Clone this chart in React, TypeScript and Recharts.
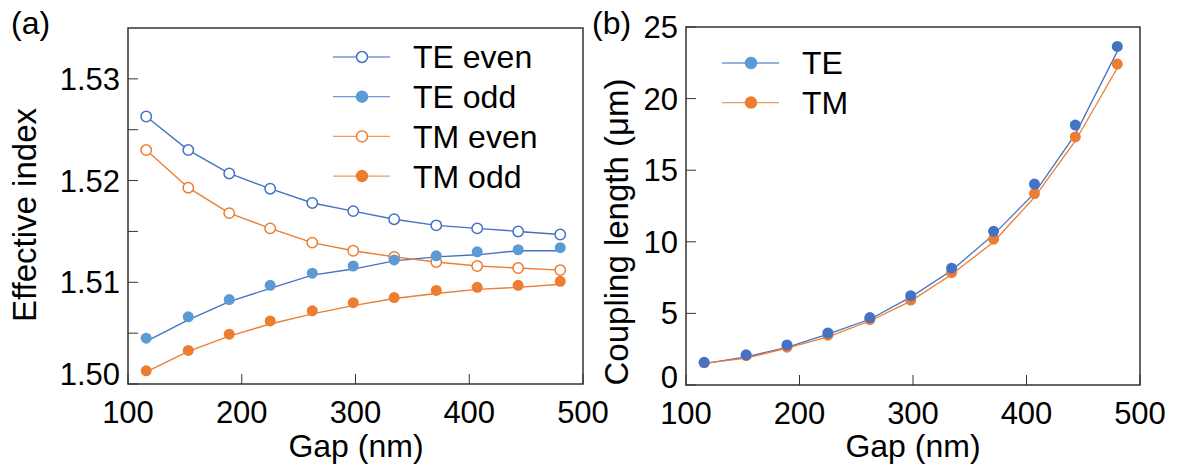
import { LineChart, Line, XAxis, YAxis, ReferenceArea, Legend } from "recharts";

// gap values (nm) shared by both panels
const gap = [116, 153, 189, 225, 262, 298, 334, 371, 407, 443, 480];

// (a) effective index
const teEven = [1.5263, 1.523, 1.5207, 1.5192, 1.5178, 1.517, 1.5162, 1.5156, 1.5153, 1.515, 1.5147];
const tmEven = [1.523, 1.5193, 1.5168, 1.5153, 1.5139, 1.5131, 1.5125, 1.512, 1.5116, 1.5114, 1.5112];
const teOdd = [1.5045, 1.5066, 1.5083, 1.5097, 1.5109, 1.5116, 1.5122, 1.5126, 1.513, 1.5132, 1.5134];
const teOddFit = [1.5042, 1.5063, 1.5081, 1.5094, 1.5107, 1.5113, 1.5121, 1.5125, 1.5127, 1.5131, 1.5131];
const tmOdd = [1.5013, 1.5033, 1.5049, 1.5062, 1.5072, 1.508, 1.5085, 1.5092, 1.5095, 1.5097, 1.5101];
const tmOddFit = [1.5012, 1.5032, 1.5047, 1.5059, 1.5069, 1.5077, 1.5084, 1.5089, 1.5093, 1.5095, 1.5098];

// (b) coupling length (um)
const teLc = [1.58, 2.11, 2.8, 3.64, 4.71, 6.24, 8.16, 10.73, 14.03, 18.15, 23.64];
const teLcFit = [1.5, 1.97, 2.62, 3.55, 4.59, 6.14, 8.0, 10.5, 13.4, 17.5, 23.3];
const tmLc = [1.55, 2.05, 2.64, 3.48, 4.57, 5.93, 7.84, 10.18, 13.37, 17.32, 22.41];
const tmLcFit = [1.51, 1.88, 2.57, 3.36, 4.47, 5.86, 7.72, 9.99, 13.1, 17.04, 22.14];

const gapTicks = [100, 200, 300, 400, 500];
const indexTicks = [1.5, 1.505, 1.51, 1.515, 1.52, 1.525, 1.53];
const lcTicks = [0, 5, 10, 15, 20, 25];

const BLUE = "#4472c4";
const LIGHT_BLUE = "#5b9bd5";
const ORANGE = "#ed7d31";
const AXIS = "#333";
const FONT = "'Liberation Sans', Arial, sans-serif";

const indexData = gap.map((g, i) => ({
    gap: g,
    teEven: teEven[i],
    tmEven: tmEven[i],
    teOdd: teOdd[i],
    teOddFit: teOddFit[i],
    tmOdd: tmOdd[i],
    tmOddFit: tmOddFit[i],
}));

const lcData = gap.map((g, i) => ({
    gap: g,
    te: teLc[i],
    teFit: teLcFit[i],
    tm: tmLc[i],
    tmFit: tmLcFit[i],
}));

// left y ticks: only every 0.01 gets a label, bottom one is nudged up
const IndexTick = ({ x, y, payload }: any) => {
    const v = payload.value;
    if (Math.round(v * 1000) % 10 !== 0) return <g />;
    const dy = v === 1.5 ? -10 : 0;
    return (
        <text x={x} y={y + dy} dy="0.355em" textAnchor="end" fontSize={31} fill="#000">
            {v.toFixed(2)}
        </text>
    );
};

// right y ticks, "0" lifted a bit so it clears the "100" below it
const LcTick = ({ x, y, payload }: any) => {
    const v = payload.value;
    const dy = v === 0 ? -8 : 0;
    return (
        <text x={x} y={y + dy} dy="0.355em" textAnchor="end" fontSize={31} fill="#000">
            {v}
        </text>
    );
};

const LegendRows = ({ rows, rowGap }: { rows: { label: string; color: string; line: string; hollow: boolean }[]; rowGap: number }) => (
    <svg width={240} height={rows.length * rowGap + 10} style={{ overflow: "visible" }}>
        {rows.map((r, i) => {
            const cy = 20 + i * rowGap;
            return (
                <g key={r.label}>
                    <line x1={0} x2={57} y1={cy} y2={cy} stroke={r.line} strokeWidth={1.3} />
                    <circle cx={29} cy={cy} r={5.5} fill={r.hollow ? "#fff" : r.color} stroke={r.color} strokeWidth={1.5} />
                    <text x={80} y={cy} dy="0.358em" fontSize={32} fill="#000">
                        {r.label}
                    </text>
                </g>
            );
        })}
    </svg>
);

export default function App() {
    const tickStyle = { fontSize: 31, fill: "#000" };
    return (
        <div style={{ position: "absolute", left: 0, top: 0, width: 1177, height: 468, background: "#fff", fontFamily: FONT }}>
            <div style={{ position: "absolute", left: 0, top: 0 }}>
                <LineChart width={620} height={468} data={indexData} margin={{ top: 28, right: 37, bottom: 44, left: 68 }}>
                    <XAxis
                        type="number"
                        dataKey="gap"
                        domain={[100, 500]}
                        ticks={gapTicks}
                        axisLine={false}
                        tickLine={{ stroke: AXIS }}
                        tickSize={-10}
                        tickMargin={27}
                        height={40}
                        tick={tickStyle}
                    />
                    <YAxis
                        type="number"
                        domain={[1.5, 1.535]}
                        ticks={indexTicks}
                        axisLine={false}
                        tickLine={{ stroke: AXIS }}
                        tickSize={-10}
                        tickMargin={18}
                        width={60}
                        tick={<IndexTick />}
                    />
                    <ReferenceArea x1={100} x2={500} y1={1.5} y2={1.535} fill="none" stroke={AXIS} strokeWidth={1.5} />
                    <Line dataKey="teOddFit" stroke={BLUE} strokeWidth={1.4} dot={false} isAnimationActive={false} />
                    <Line dataKey="tmOddFit" stroke={ORANGE} strokeWidth={1.4} dot={false} isAnimationActive={false} />
                    <Line dataKey="tmEven" stroke={ORANGE} strokeWidth={1.4} dot={{ r: 5.2, fill: "#fff", stroke: ORANGE, strokeWidth: 1.5 }} isAnimationActive={false} />
                    <Line dataKey="teEven" stroke={BLUE} strokeWidth={1.4} dot={{ r: 5.2, fill: "#fff", stroke: BLUE, strokeWidth: 1.5 }} isAnimationActive={false} />
                    <Line dataKey="teOdd" stroke="none" dot={{ r: 5.5, fill: LIGHT_BLUE, stroke: "none" }} isAnimationActive={false} />
                    <Line dataKey="tmOdd" stroke="none" dot={{ r: 5.5, fill: ORANGE, stroke: "none" }} isAnimationActive={false} />
                    <Legend
                        layout="horizontal"
                        verticalAlign="middle"
                        wrapperStyle={{ position: "absolute", left: 333, top: 37, width: 240 }}
                        content={() => (
                            <LegendRows
                                rowGap={39.7}
                                rows={[
                                    { label: "TE even", color: BLUE, line: "#6d9bd6", hollow: true },
                                    { label: "TE odd", color: LIGHT_BLUE, line: "#6d9bd6", hollow: false },
                                    { label: "TM even", color: ORANGE, line: "#f09a5e", hollow: true },
                                    { label: "TM odd", color: ORANGE, line: "#f09a5e", hollow: false },
                                ]}
                            />
                        )}
                    />
                </LineChart>
            </div>
            <div style={{ position: "absolute", left: 620, top: 0 }}>
                <LineChart width={557} height={468} data={lcData} margin={{ top: 27, right: 37, bottom: 43, left: 6 }}>
                    <XAxis
                        type="number"
                        dataKey="gap"
                        domain={[100, 500]}
                        ticks={gapTicks}
                        axisLine={false}
                        tickLine={{ stroke: AXIS }}
                        tickSize={-10}
                        tickMargin={27}
                        height={40}
                        tick={tickStyle}
                    />
                    <YAxis
                        type="number"
                        domain={[0, 25]}
                        ticks={lcTicks}
                        axisLine={false}
                        tickLine={{ stroke: AXIS }}
                        tickSize={-10}
                        tickMargin={18}
                        width={60}
                        tick={<LcTick />}
                    />
                    <ReferenceArea x1={100} x2={500} y1={0} y2={25} fill="none" stroke={AXIS} strokeWidth={1.5} />
                    <Line dataKey="teFit" stroke={BLUE} strokeWidth={1.3} dot={false} isAnimationActive={false} />
                    <Line dataKey="tmFit" stroke={ORANGE} strokeWidth={1.3} dot={false} isAnimationActive={false} />
                    <Line dataKey="tm" stroke="none" dot={{ r: 5.5, fill: ORANGE, stroke: "none" }} isAnimationActive={false} />
                    <Line dataKey="te" stroke="none" dot={{ r: 5.5, fill: BLUE, stroke: "none" }} isAnimationActive={false} />
                    <Legend
                        layout="horizontal"
                        verticalAlign="middle"
                        wrapperStyle={{ position: "absolute", left: 102, top: 43, width: 200 }}
                        content={() => (
                            <LegendRows
                                rowGap={39.6}
                                rows={[
                                    { label: "TE", color: LIGHT_BLUE, line: "#6d9bd6", hollow: false },
                                    { label: "TM", color: ORANGE, line: "#f09a5e", hollow: false },
                                ]}
                            />
                        )}
                    />
                </LineChart>
            </div>
            <svg width={1177} height={468} style={{ position: "absolute", left: 0, top: 0, pointerEvents: "none" }}>
                <text x={11} y={34} fontSize={32} fill="#000">(a)</text>
                <text x={592} y={34} fontSize={32} fill="#000">(b)</text>
                <text x={356} y={457} textAnchor="middle" fontSize={32} fill="#000">Gap (nm)</text>
                <text x={913} y={457} textAnchor="middle" fontSize={32} fill="#000">Gap (nm)</text>
                <text x={0} y={0} transform="translate(36 215) rotate(-90)" textAnchor="middle" fontSize={33} fill="#000">
                    Effective index
                </text>
                <text x={0} y={0} transform="translate(628 232) rotate(-90)" textAnchor="middle" fontSize={33} fill="#000">
                    Coupling length (μm)
                </text>
            </svg>
        </div>
    );
}
